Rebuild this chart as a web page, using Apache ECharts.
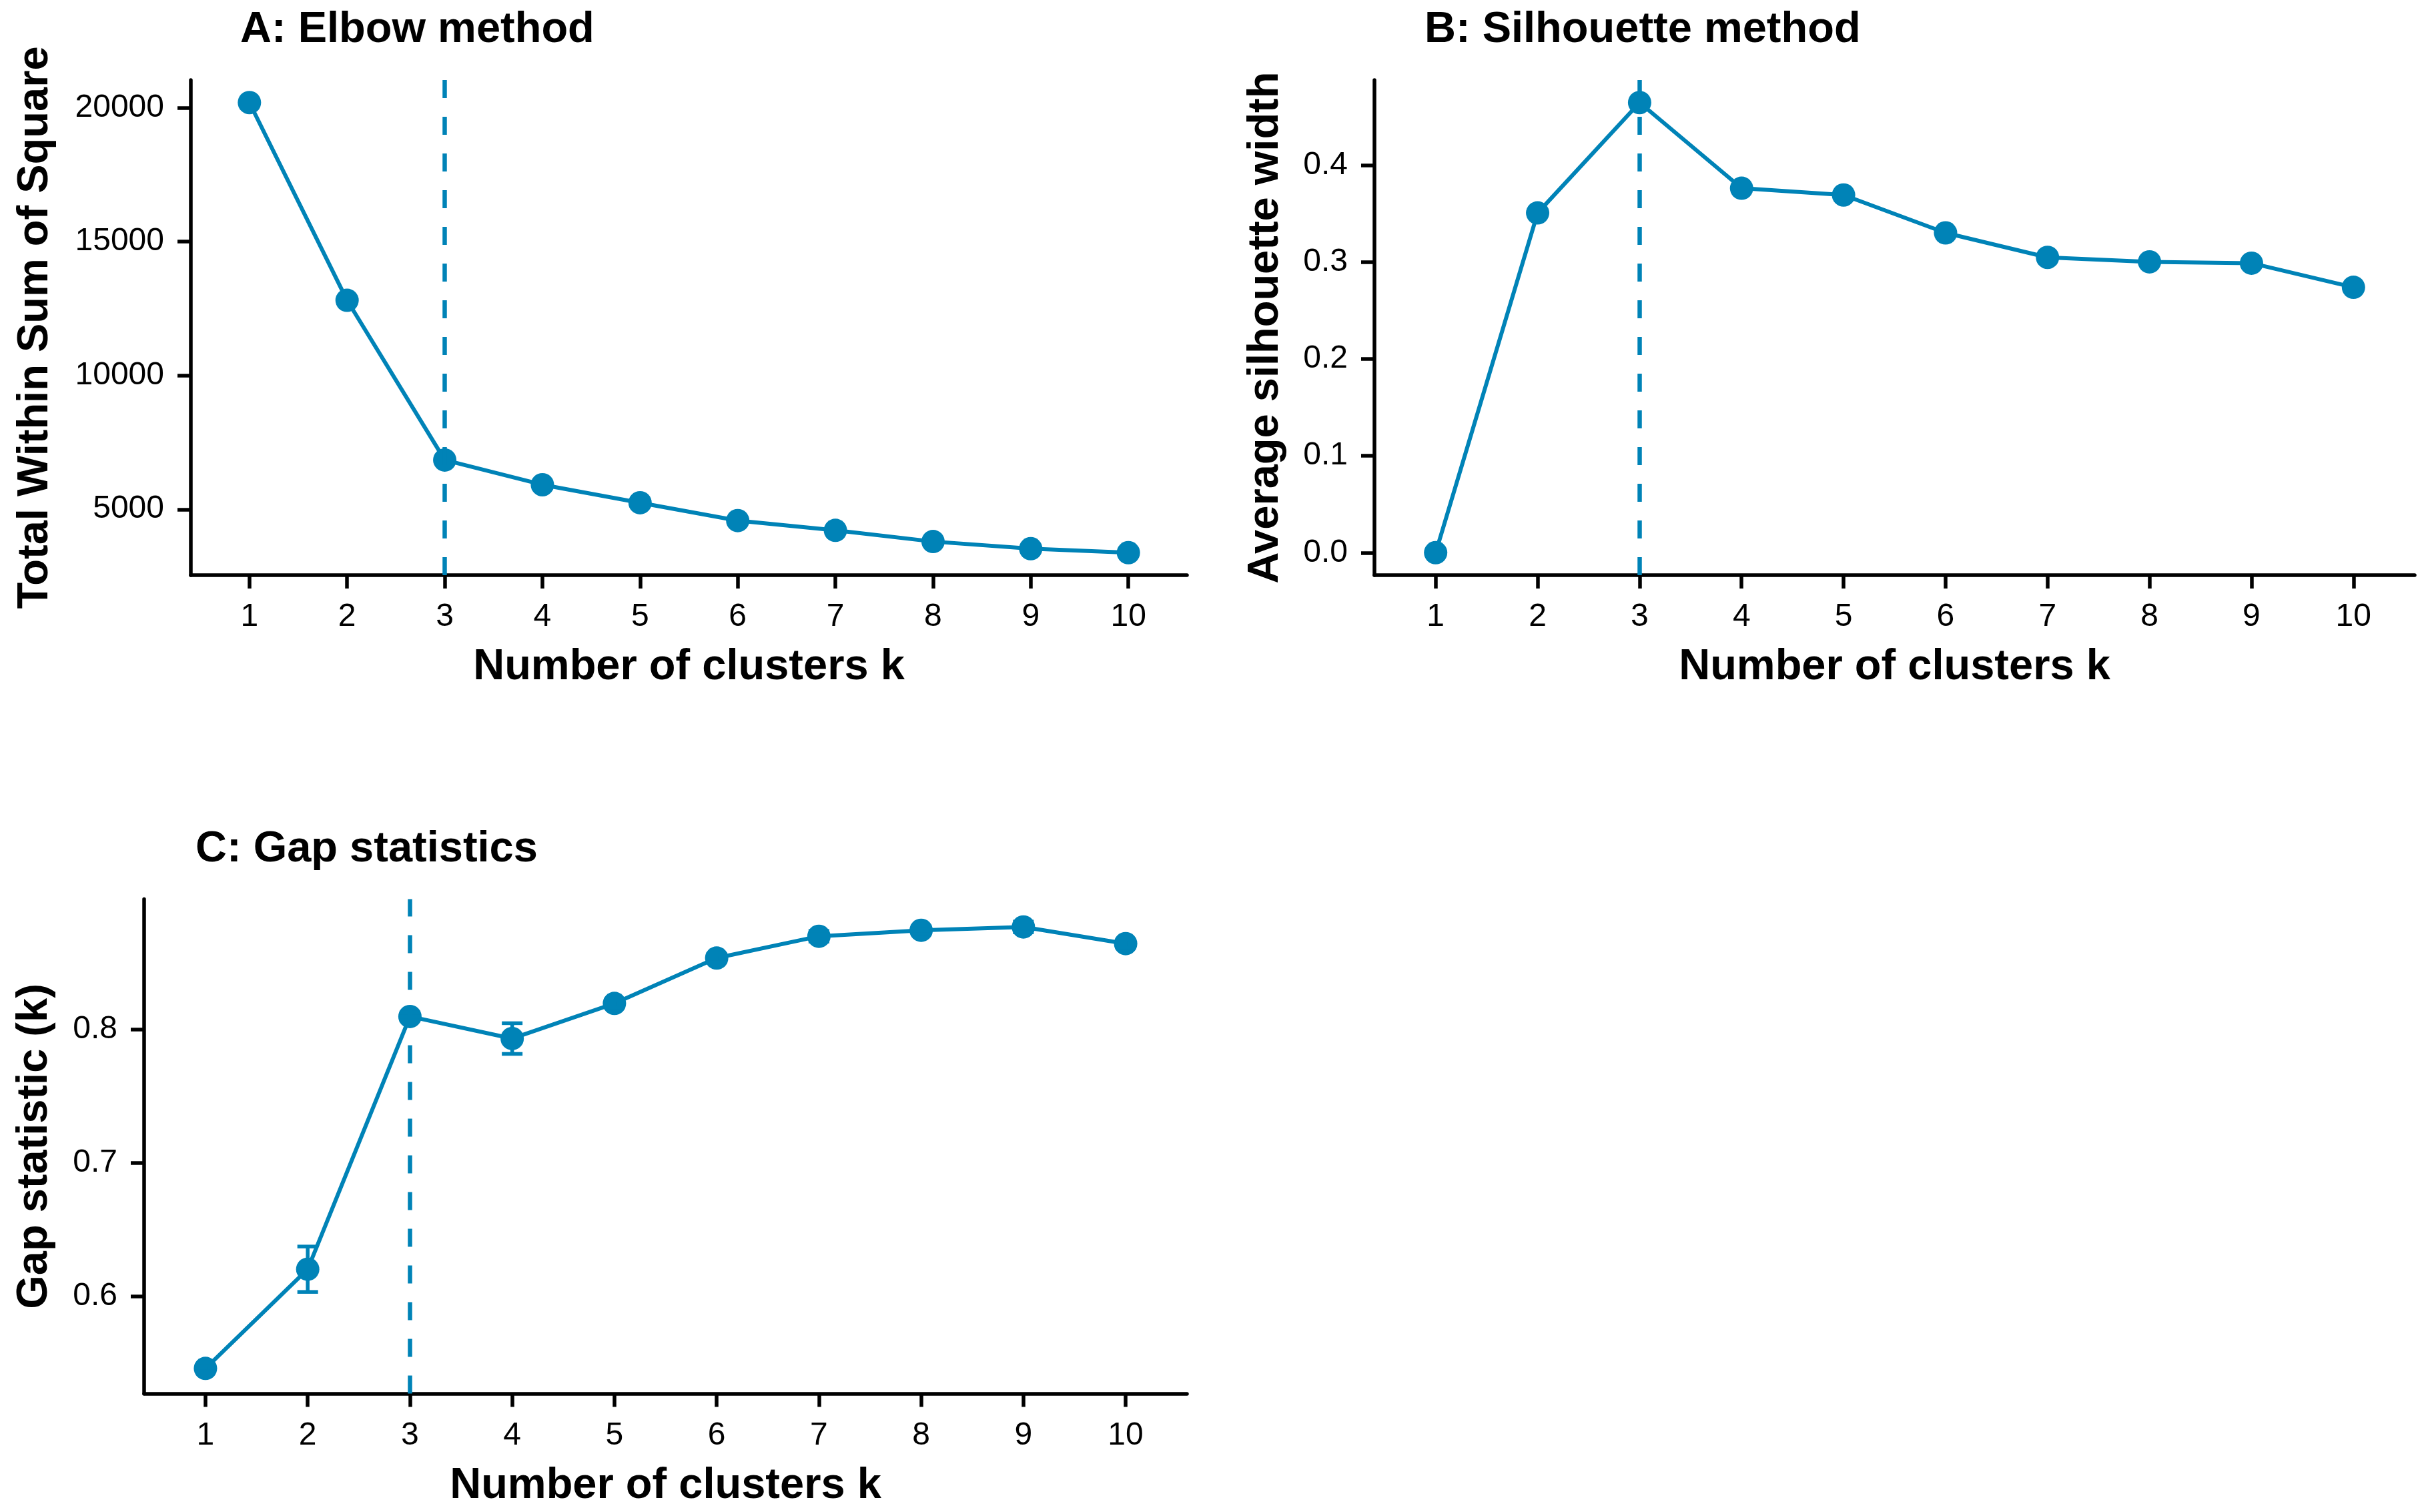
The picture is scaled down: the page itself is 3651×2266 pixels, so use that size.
<!DOCTYPE html>
<html>
<head>
<meta charset="utf-8">
<script src="https://cdn.jsdelivr.net/npm/echarts@6/dist/echarts.min.js"></script>
<style>
html,body{margin:0;padding:0;background:#fff;}
#chart{width:3651px;height:2266px;}
</style>
</head>
<body>
<div id="chart"></div>
<script>
// ---- data ----
const kValues = [1, 2, 3, 4, 5, 6, 7, 8, 9, 10];
const wss = [20189, 12805, 6841, 5917, 5245, 4578, 4213, 3795, 3530, 3380];
const silhouette = [0.000, 0.3507, 0.4646, 0.3762, 0.3692, 0.3301, 0.3048, 0.3002, 0.2988, 0.2739];
const gapStat = [0.5461, 0.6204, 0.8097, 0.7932, 0.8195, 0.8535, 0.8698, 0.8743, 0.8768, 0.8643];
const gapSE = [0.002, 0.017, 0.003, 0.0115, 0.003, 0.003, 0.004, 0.003, 0.004, 0.003];
const optimalK = 3;
const yTicksA = [5000, 10000, 15000, 20000];
const yTicksB = [0.0, 0.1, 0.2, 0.3, 0.4];
const yTicksC = [0.6, 0.7, 0.8];
const panelTitles = ['A: Elbow method', 'B: Silhouette method', 'C: Gap statistics'];
const yNames = ['Total Within Sum of Square', 'Average silhouette width', 'Gap statistic (k)'];
const xName = 'Number of clusters k';

// ---- style ----
const FONT = "'Liberation Sans', Arial, sans-serif";
const BLUE = '#0083b7';
const BIG = 65;
const TICKFS = 48;

function expand(lo, hi) { const p = (hi - lo) * 0.05; return [lo - p, hi + p]; }
const rA = expand(Math.min(...wss), Math.max(...wss));
const rB = expand(Math.min(...silhouette), Math.max(...silhouette));
const rC = expand(Math.min(...gapStat.map((g, i) => g - gapSE[i])), Math.max(...gapStat.map((g, i) => g + gapSE[i])));

function xAxis(gi) {
  return {
    type: 'value', gridIndex: gi, min: 0.4, max: 10.6,
    name: xName, nameLocation: 'middle', nameGap: 106,
    nameTextStyle: { fontSize: BIG, fontWeight: 'bold', color: '#000', fontFamily: FONT },
    axisLine: { show: true, onZero: false, lineStyle: { color: '#000', width: 5.5 } },
    axisTick: { show: true, length: 20, customValues: kValues, lineStyle: { color: '#000', width: 5.5 } },
    axisLabel: { customValues: kValues, fontSize: TICKFS, color: '#000', margin: 39, fontFamily: FONT },
    splitLine: { show: false }
  };
}
function yAxis(gi, range, ticks, name, gap, fmt) {
  return {
    type: 'value', gridIndex: gi, min: range[0], max: range[1],
    name: name, nameLocation: 'middle', nameGap: gap,
    nameTextStyle: { fontSize: BIG, fontWeight: 'bold', color: '#000', fontFamily: FONT },
    axisLine: { show: true, onZero: false, lineStyle: { color: '#000', width: 5.5 } },
    axisTick: { show: true, length: 20, customValues: ticks, lineStyle: { color: '#000', width: 5.5 } },
    axisLabel: { customValues: ticks, fontSize: TICKFS, color: '#000', margin: 40, fontFamily: FONT, formatter: fmt },
    splitLine: { show: false }
  };
}
function lineSeries(xi, vals) {
  return {
    type: 'line', xAxisIndex: xi, yAxisIndex: xi,
    data: kValues.map((k, i) => [k, vals[i]]),
    symbol: 'circle', symbolSize: 35,
    itemStyle: { color: BLUE },
    lineStyle: { color: BLUE, width: 6 },
    z: 3,
    markLine: {
      silent: true, symbol: ['none', 'none'], label: { show: false },
      lineStyle: { color: BLUE, width: 6.5, type: [27, 28] },
      data: [{ xAxis: optimalK }]
    }
  };
}

const titleStyle = { fontSize: BIG, fontWeight: 'bold', color: '#000', fontFamily: FONT };
const chart = echarts.init(document.getElementById('chart'), null, { renderer: 'canvas' });
chart.setOption({
  animation: false,
  backgroundColor: '#fff',
  title: [
    { text: panelTitles[0], left: 360, top: 13, padding: 0, textStyle: titleStyle },
    { text: panelTitles[1], left: 2135, top: 13, padding: 0, textStyle: titleStyle },
    { text: panelTitles[2], left: 293, top: 1241, padding: 0, textStyle: titleStyle }
  ],
  grid: [
    { left: 286, top: 120, width: 1493, height: 742 },
    { left: 2060, top: 120, width: 1559, height: 742 },
    { left: 216, top: 1347.5, width: 1563, height: 741 }
  ],
  xAxis: [xAxis(0), xAxis(1), xAxis(2)],
  yAxis: [
    yAxis(0, rA, yTicksA, yNames[0], 200, v => String(Math.round(v))),
    yAxis(1, rB, yTicksB, yNames[1], 130, v => v.toFixed(1)),
    yAxis(2, rC, yTicksC, yNames[2], 131, v => v.toFixed(1))
  ],
  series: [
    lineSeries(0, wss),
    lineSeries(1, silhouette),
    lineSeries(2, gapStat),
    {
      type: 'custom', xAxisIndex: 2, yAxisIndex: 2, z: 4,
      data: kValues.map((k, i) => [k, gapStat[i] - gapSE[i], gapStat[i] + gapSE[i]]),
      renderItem: function (params, api) {
        const lo = api.coord([api.value(0), api.value(1)]);
        const hi = api.coord([api.value(0), api.value(2)]);
        const hw = 15.5;
        const st = { stroke: BLUE, lineWidth: 5.5, fill: null };
        return {
          type: 'group',
          children: [
            { type: 'line', shape: { x1: lo[0], y1: lo[1], x2: hi[0], y2: hi[1] }, style: st },
            { type: 'line', shape: { x1: lo[0] - hw, y1: lo[1], x2: lo[0] + hw, y2: lo[1] }, style: st },
            { type: 'line', shape: { x1: hi[0] - hw, y1: hi[1], x2: hi[0] + hw, y2: hi[1] }, style: st }
          ]
        };
      }
    }
  ]
});
</script>
</body>
</html>
